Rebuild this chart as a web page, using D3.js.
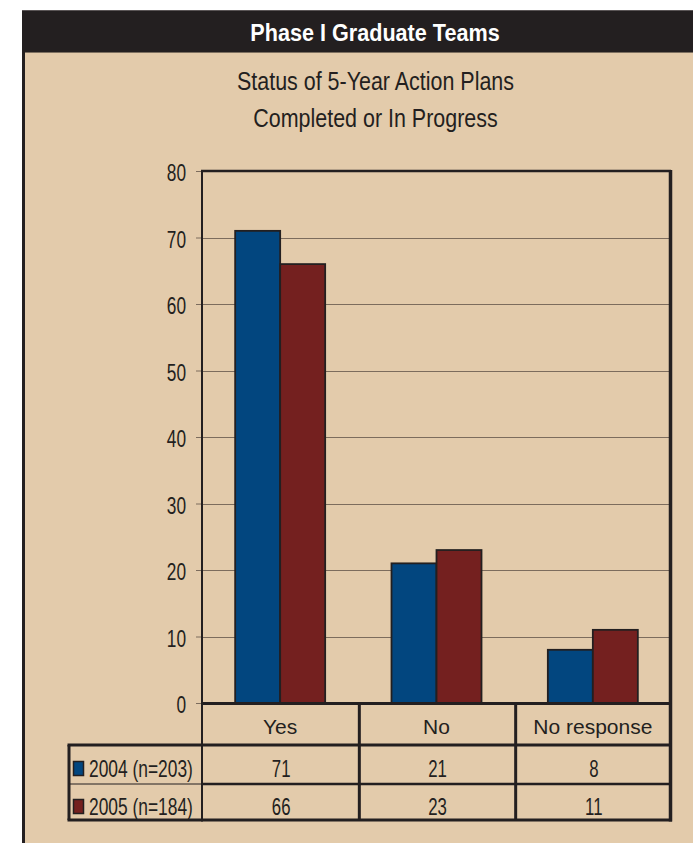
<!DOCTYPE html>
<html>
<head>
<meta charset="utf-8">
<script src="https://cdn.jsdelivr.net/npm/d3@7"></script>
<style>
  html, body { margin: 0; padding: 0; background: #ffffff; }
  svg { display: block; }
  text { font-family: "Liberation Sans", Arial, Helvetica, sans-serif; }
</style>
</head>
<body>
<svg id="chart" width="693" height="843"></svg>
<script>
// ---------- data ----------
const headerText = "Phase I Graduate Teams";
const titleLines = ["Status of 5-Year Action Plans", "Completed or In Progress"];
const categories = ["Yes", "No", "No response"];
const seriesNames = ["2004 (n=203)", "2005 (n=184)"];
const values2004 = [71, 21, 8];
const values2005 = [66, 23, 11];
const yTicks = [0, 10, 20, 30, 40, 50, 60, 70, 80];

// ---------- style ----------
const colors = ["#02467f", "#74201f"];
const dark = "#231f20";
const beige = "#e3cbab";
const gridColor = "#7c6c5d";

const W = 693, H = 843;
const plot = { left: 202, right: 671, top: 171, bottom: 703 };
const table = { left: 69, row1: 745, row2: 784, bottom: 820 };

const svg = d3.select("#chart");

function label(g, txt, x, y, o) {
  return g.append("text")
    .attr("transform", `translate(${x},${y}) scale(${o.sx || 1},1)`)
    .attr("text-anchor", o.anchor || "middle")
    .attr("font-size", o.size)
    .attr("font-weight", o.weight || "normal")
    .attr("fill", o.fill || dark)
    .text(txt);
}

// background panel
svg.append("rect").attr("x", 22).attr("y", 10).attr("width", W - 22).attr("height", H - 10).attr("fill", dark);
svg.append("rect").attr("x", 25).attr("y", 52).attr("width", W - 25).attr("height", H - 52).attr("fill", beige);
svg.append("line").attr("x1", 22).attr("x2", W).attr("y1", 10.5).attr("y2", 10.5).attr("stroke", "#5a5556").attr("stroke-width", 1);
svg.append("line").attr("x1", 25).attr("x2", W).attr("y1", 52.5).attr("y2", 52.5).attr("stroke", "#7d7060").attr("stroke-width", 1);

// header + titles
label(svg, headerText, 375, 41, { size: 24, sx: 0.9, weight: "bold", fill: "#ffffff" });
label(svg, titleLines[0], 375.5, 90, { size: 26, sx: 0.825 });
label(svg, titleLines[1], 375.5, 127, { size: 26, sx: 0.825 });

// scales
const x = d3.scaleBand().domain(categories).range([plot.left, plot.right]).paddingInner(0).paddingOuter(0);
const xs = d3.scaleBand().domain(seriesNames).range([0, x.bandwidth()]).paddingInner(0).paddingOuter(0.737);
const y = d3.scaleLinear().domain([0, 80]).range([plot.bottom, plot.top]);

// gridlines
svg.append("g").selectAll("line").data(yTicks.filter(d => d > 0 && d < 80)).join("line")
  .attr("x1", plot.left).attr("x2", plot.right)
  .attr("y1", d => Math.round(y(d)) + 0.5).attr("y2", d => Math.round(y(d)) + 0.5)
  .attr("stroke", gridColor).attr("stroke-width", 1);

// y axis (ticks + labels)
const yAxis = svg.append("g").attr("transform", `translate(${plot.left},0)`)
  .call(d3.axisLeft(y).tickValues(yTicks).tickSize(6).tickFormat(d3.format("d")));
yAxis.select(".domain").remove();
yAxis.selectAll(".tick line").attr("stroke", gridColor).attr("stroke-width", 1);
yAxis.selectAll(".tick text")
  .attr("x", null).attr("dy", null)
  .attr("transform", "translate(-16,9.5) scale(0.72,1)")
  .attr("text-anchor", "end")
  .attr("font-size", 24)
  .attr("font-family", '"Liberation Sans", Arial, sans-serif')
  .attr("fill", dark);

// bars
const seriesData = [values2004, values2005];
const bars = svg.append("g");
seriesData.forEach((vals, si) => {
  bars.selectAll(null).data(categories.map((c, i) => ({ c, v: vals[i] }))).join("rect")
    .attr("x", d => x(d.c) + xs(seriesNames[si]))
    .attr("y", d => y(d.v))
    .attr("width", xs.bandwidth())
    .attr("height", d => y(0) - y(d.v))
    .attr("fill", colors[si])
    .attr("stroke", dark)
    .attr("stroke-width", 1.8);
});

// frame & table lines
const L = svg.append("g").attr("stroke", dark).attr("fill", "none");
function ln(x1, y1, x2, y2, w) { L.append("line").attr("x1", x1).attr("y1", y1).attr("x2", x2).attr("y2", y2).attr("stroke-width", w); }
ln(plot.left - 1, plot.top, plot.right, plot.top, 2.5);
ln(plot.left, plot.top - 1, plot.left, table.bottom + 1.5, 2);
ln(plot.right - 0.5, plot.top - 1, plot.right - 0.5, table.bottom + 1.5, 3.5);
ln(plot.left, plot.bottom + 0.5, plot.right, plot.bottom + 0.5, 3);
ln(table.left - 1.5, table.row1, plot.right, table.row1, 3);
ln(table.left, table.row2, plot.left, table.row2, 1);
ln(plot.left, table.row2, plot.right, table.row2, 2.5);
ln(table.left - 1.5, table.bottom, plot.right + 1, table.bottom, 3);
ln(table.left, table.row1, table.left, table.bottom, 3);
categories.slice(1).forEach(c => ln(x(c) + 1, plot.bottom, x(c) + 1, table.bottom, 3));

// category labels
categories.forEach(c => label(svg, c, x(c) + x.bandwidth() / 2, 734, { size: 21 }));

// table rows: legend swatches + names + values
const rowBase = [777, 815];
const swatchY = [761, 799];
seriesNames.forEach((s, si) => {
  svg.append("rect").attr("x", 73.5).attr("y", swatchY[si] + 0.5).attr("width", 10).attr("height", 14)
    .attr("fill", colors[si]).attr("stroke", dark).attr("stroke-width", 1.5);
  label(svg, s, 89, rowBase[si], { size: 23, sx: 0.756, anchor: "start" });
  categories.forEach((c, i) => {
    label(svg, String(seriesData[si][i]), x(c) + x.bandwidth() / 2 + 1, rowBase[si], { size: 23, sx: 0.73 });
  });
});
</script>
</body>
</html>
